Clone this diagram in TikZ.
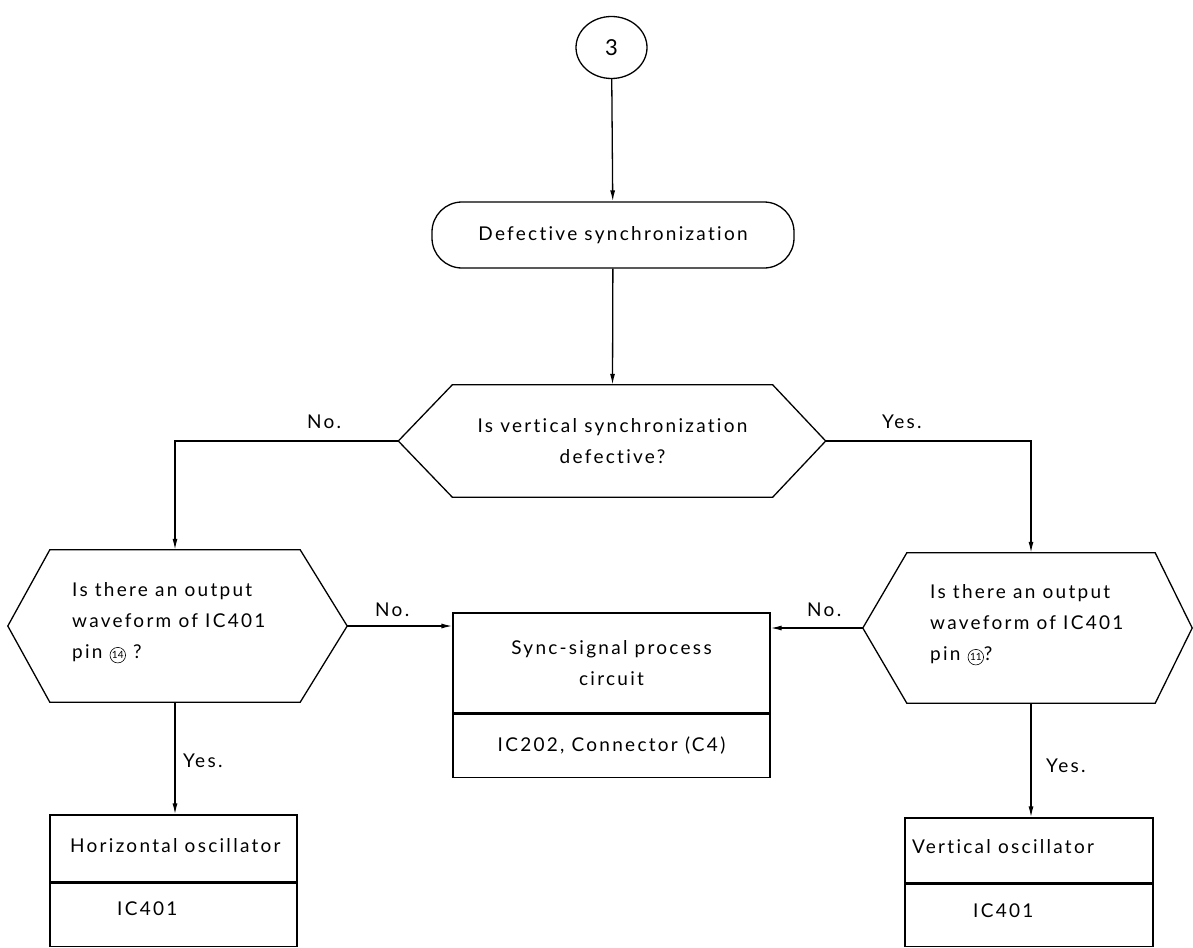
\documentclass[tikz,border=0pt]{standalone}
\usepackage{fontspec}
\setmainfont{Lato}[LetterSpace=12,Ligatures={NoCommon}]
\usetikzlibrary{arrows.meta,calc,shapes.geometric}
\newcommand\pinmark[1]{\tikz[baseline=(pm.base)]\node[draw,circle,inner sep=0.7pt,line width=0.6pt,font=\fontsize{10}{10}\selectfont\addfontfeature{LetterSpace=0}](pm){#1};}
\begin{document}
\begin{tikzpicture}[x=1pt,y=-1pt,
  line/.style={line width=1.3pt},
  arr/.style={line,-{Latex[length=11pt,width=5pt]}},
  txt/.style={font=\fontsize{19}{31}\selectfont,inner sep=0pt},
  lbl/.style={font=\fontsize{19}{22}\selectfont,inner sep=0pt},
  boxnode/.style={draw,line,rectangle,inner sep=0pt}]
\useasboundingbox (0,0) rectangle (1193,947);

% start connector
\node[draw,line,ellipse,minimum width=71pt,minimum height=62pt,inner sep=0pt,
      font=\fontsize{22}{24}\selectfont] (start) at (611.5,47.5) {3};

% terminal
\node[draw,line,rounded corners=30pt,minimum width=362pt,minimum height=66pt,
      inner sep=0pt,font=\fontsize{19}{22}\selectfont] (term) at (613,235) {Defective synchronization};

% decision 1
\node[minimum width=320pt,minimum height=112pt,inner sep=0pt,align=center,txt] (q1) at (612.5,441)
  {Is vertical synchronization\\defective?};
\coordinate (q1l) at ([xshift=-54pt]q1.west);
\coordinate (q1r) at ([xshift=53pt]q1.east);
\draw[line] (q1.north west) -- (q1.north east) -- (q1r) -- (q1.south east)
  -- (q1.south west) -- (q1l) -- cycle;

% decision 2 (left)
\node[minimum width=250pt,minimum height=152pt,inner sep=0pt] (q2) at (175,626) {};
\coordinate (q2l) at ([xshift=-42pt]q2.west);
\coordinate (q2r) at ([xshift=47pt]q2.east);
\draw[line] (q2.north west) -- (q2.north east) -- (q2r) -- (q2.south east)
  -- (q2.south west) -- (q2l) -- cycle;
\node[txt,align=left,anchor=west] (q2t) at (72,623)
  {Is there an output\\waveform of IC401\\pin \pinmark{14} ?};

% decision 3 (right)
\node[minimum width=248pt,minimum height=150pt,inner sep=0pt] (q3) at (1031,628) {};
\coordinate (q3l) at ([xshift=-44pt]q3.west);
\coordinate (q3r) at ([xshift=37pt]q3.east);
\draw[line] (q3.north west) -- (q3.north east) -- (q3r) -- (q3.south east)
  -- (q3.south west) -- (q3l) -- cycle;
\node[txt,align=left,anchor=west] (q3t) at (930,625)
  {Is there an output\\waveform of IC401\\pin \pinmark{11}?};

% middle process box
\node[boxnode,minimum width=317pt,minimum height=100pt,align=center,txt] (midA) at (611.5,663)
  {Sync-signal process\\circuit};
\node[boxnode,minimum width=317pt,minimum height=63pt,txt,anchor=north] (midB) at (midA.south)
  {IC202, Connector (C4)};

% left result box
\node[boxnode,minimum width=247pt,minimum height=67pt] (lA) at (173.5,848.5) {};
\node[boxnode,minimum width=247pt,minimum height=63pt,anchor=north] (lB) at (lA.south) {};
\node[lbl,anchor=base west] (lAt) at (70,852) {Horizontal oscillator};
\node[lbl,anchor=base west] (lBt) at (117,915) {IC401};

% right result box
\node[boxnode,minimum width=248pt,minimum height=65pt] (rA) at (1029,850.5) {};
\node[boxnode,minimum width=248pt,minimum height=62pt,anchor=north] (rB) at (rA.south) {};
\node[lbl,anchor=base west] (rAt) at (912,853) {Vertical oscillator};
\node[lbl,anchor=base west] (rBt) at (973,917) {IC401};

% connectors
\draw[arr] (start) -- (term);
\draw[arr] (term) -- (q1.north);
\draw[arr] (q1l) -| (q2.north);
\draw[arr] (q1r) -| (q3.north);
\draw[arr] (q2r) -- (q2r -| midA.west);
\draw[arr] (q3l) -- (q3l -| midA.east);
\draw[arr] (q2.south) -- (q2.south |- lA.north);
\draw[arr] (q3.south) -- (q3.south |- rA.north);

% labels
\node[lbl,anchor=base west] (n1) at (307,428) {No.};
\node[lbl,anchor=base west] (y1) at (882,428) {Yes.};
\node[lbl,anchor=base west] (n2) at (375,616) {No.};
\node[lbl,anchor=base west] (n3) at (807,616) {No.};
\node[lbl,anchor=base west] (y2) at (183,767) {Yes.};
\node[lbl,anchor=base west] (y3) at (1046,772) {Yes.};
\end{tikzpicture}
\end{document}
